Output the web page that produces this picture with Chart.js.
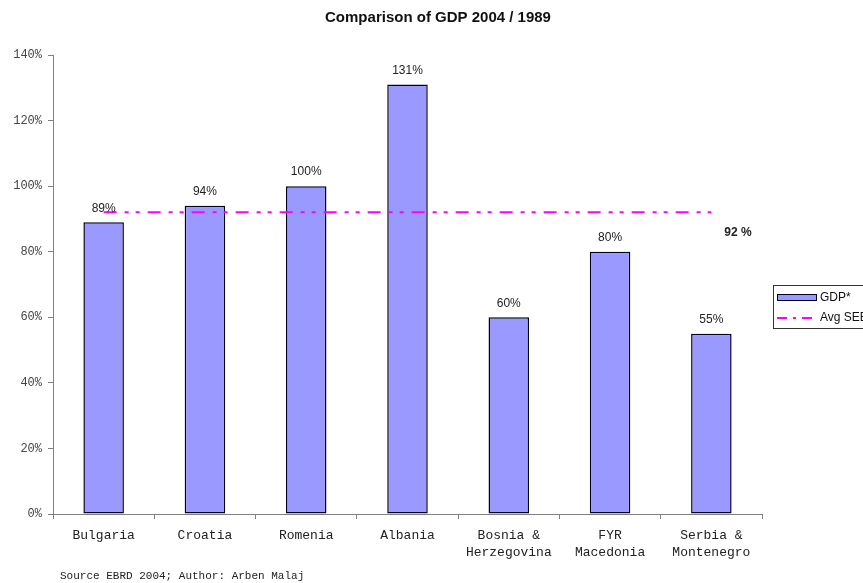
<!DOCTYPE html>
<html>
<head>
<meta charset="utf-8">
<script src="https://cdn.jsdelivr.net/npm/chart.js@4"></script>
<style>
  html, body { margin: 0; padding: 0; background: #fff; }
  #wrap { width: 863px; height: 583px; }
</style>
</head>
<body>
<div id="wrap"><canvas id="gdpChart" width="863" height="583"></canvas></div>
<script>
const countries = [
  ["Bulgaria"], ["Croatia"], ["Romenia"], ["Albania"],
  ["Bosnia &", "Herzegovina"], ["FYR", "Macedonia"], ["Serbia &", "Montenegro"]
];
const gdpValues = [89, 94, 100, 131, 60, 80, 55];
const avgSEE = [92, 92, 92, 92, 92, 92, 92];
const avgLabel = "92 %";
const yTicks = [0, 20, 40, 60, 80, 100, 120, 140];
const legendLabels = ["GDP*", "Avg SEE"];
const chartTitle = "Comparison of GDP 2004 / 1989";
const sourceNote = "Source EBRD 2004; Author: Arben Malaj";

const BAR_FILL = "#9999FF";
const BAR_EDGE = "#000022";
const AVG_COLOR = "#FF00FF";
const AVG_DASH = [13, 8, 4, 7, 4, 8];

const extrasPlugin = {
  id: "extras",
  afterDatasetsDraw(chart) {
    const ctx = chart.ctx;
    const meta = chart.getDatasetMeta(1);
    ctx.save();

    // title, centred on the whole canvas
    ctx.font = "bold 15px 'Liberation Sans', Arial, sans-serif";
    ctx.fillStyle = "#111";
    ctx.textAlign = "center";
    ctx.textBaseline = "middle";
    ctx.fillText(chartTitle, 438, 18);

    // value labels over bars
    ctx.font = "12px 'Liberation Sans', Arial, sans-serif";
    ctx.fillStyle = "#222";
    meta.data.forEach((bar, i) => {
      ctx.fillText(gdpValues[i] + "%", bar.x, bar.y - 14);
    });

    // average label at right end of line
    const yAvg = chart.scales.y.getPixelForValue(avgSEE[avgSEE.length - 1]);
    ctx.font = "bold 12px 'Liberation Sans', Arial, sans-serif";
    ctx.fillText(avgLabel, 738, yAvg + 20);

    // footer
    ctx.font = "11px 'Liberation Mono', 'Courier New', monospace";
    ctx.textAlign = "left";
    ctx.fillStyle = "#222";
    ctx.fillText(sourceNote, 60, 576);

    // legend (overflows the right edge like the original)
    const lx = 773, ly = 285;
    ctx.fillStyle = "#fff";
    ctx.fillRect(lx, ly, 100, 43);
    ctx.strokeStyle = "#333";
    ctx.lineWidth = 1;
    ctx.strokeRect(lx + 0.5, ly + 0.5, 100, 43);
    ctx.fillStyle = BAR_FILL;
    ctx.fillRect(lx + 4.5, ly + 9.5, 39, 6);
    ctx.strokeStyle = BAR_EDGE;
    ctx.strokeRect(lx + 4.5, ly + 9.5, 39, 6);
    ctx.strokeStyle = AVG_COLOR;
    ctx.lineWidth = 2;
    ctx.setLineDash([10, 6, 3, 6]);
    ctx.beginPath();
    ctx.moveTo(lx + 4, ly + 33);
    ctx.lineTo(lx + 42, ly + 33);
    ctx.stroke();
    ctx.setLineDash([]);
    ctx.font = "12px 'Liberation Sans', Arial, sans-serif";
    ctx.fillStyle = "#111";
    ctx.textBaseline = "middle";
    ctx.fillText(legendLabels[0], lx + 47, ly + 13);
    ctx.fillText(legendLabels[1], lx + 47, ly + 33);
    ctx.restore();
  }
};

new Chart(document.getElementById("gdpChart"), {
  data: {
    labels: countries,
    datasets: [
      {
        type: "line",
        label: legendLabels[1],
        data: avgSEE,
        borderColor: AVG_COLOR,
        borderWidth: 2,
        borderDash: AVG_DASH,
        pointRadius: 0,
        fill: false,
        order: 0
      },
      {
        type: "bar",
        label: legendLabels[0],
        data: gdpValues,
        backgroundColor: BAR_FILL,
        borderColor: BAR_EDGE,
        borderWidth: 1.5,
        borderSkipped: false,
        categoryPercentage: 1,
        barPercentage: 0.4,
        order: 1
      }
    ]
  },
  options: {
    responsive: false,
    animation: false,
    layout: { padding: { left: 0, right: 101, top: 55, bottom: 0 } },
    plugins: {
      legend: { display: false },
      tooltip: { enabled: false },
      title: { display: false }
    },
    scales: {
      x: {
        offset: true,
        border: { display: true, color: "#808080" },
        grid: { display: true, drawOnChartArea: false, offset: true, tickLength: 5, color: "#808080" },
        ticks: {
          color: "#222",
          padding: 8,
          maxRotation: 0,
          autoSkip: false,
          font: { family: "'Liberation Mono', 'Courier New', monospace", size: 13, lineHeight: 1.3 }
        },
        afterFit(scale) { scale.height = 69; }
      },
      y: {
        min: 0,
        max: 140,
        afterBuildTicks(scale) { scale.ticks = yTicks.map(v => ({ value: v })); },
        border: { display: true, color: "#808080" },
        grid: { display: true, drawOnChartArea: false, tickLength: 5, color: "#808080" },
        ticks: {
          color: "#444",
          padding: 6,
          font: { family: "'Liberation Mono', 'Courier New', monospace", size: 12 },
          callback: v => v + "%"
        },
        afterFit(scale) { scale.width = 53; }
      }
    }
  },
  plugins: [extrasPlugin]
});
</script>
</body>
</html>
